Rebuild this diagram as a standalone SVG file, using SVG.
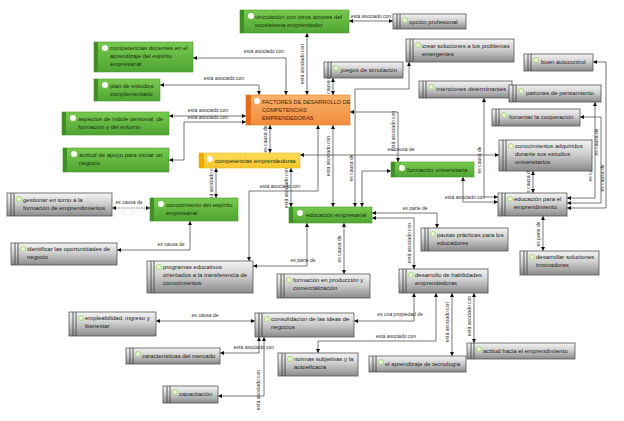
<svg xmlns="http://www.w3.org/2000/svg" width="624" height="421" viewBox="0 0 624 421">
<defs>
<linearGradient id="gGray" x1="0" y1="0" x2="0" y2="1">
<stop offset="0" stop-color="#f4f4f4"/><stop offset="0.45" stop-color="#cfcfcf"/><stop offset="1" stop-color="#8a8a8a"/>
</linearGradient>
<linearGradient id="gGreen" x1="0" y1="0" x2="0" y2="1">
<stop offset="0" stop-color="#78c94f"/><stop offset="1" stop-color="#4fa533"/>
</linearGradient>
<linearGradient id="gOrange" x1="0" y1="0" x2="0" y2="1">
<stop offset="0" stop-color="#f9b26b"/><stop offset="1" stop-color="#f28c3c"/>
</linearGradient>
<linearGradient id="gYellow" x1="0" y1="0" x2="0" y2="1">
<stop offset="0" stop-color="#fddc5a"/><stop offset="1" stop-color="#f6c52c"/>
</linearGradient>
<marker id="ar" viewBox="0 0 6 6" refX="6" refY="3" markerWidth="4" markerHeight="4" markerUnits="userSpaceOnUse" orient="auto-start-reverse">
<path d="M0,0 L6,3 L0,6 z" fill="#111"/>
</marker>
<style>
.gbox{fill:url(#gGray);stroke:#555;stroke-width:0.8}
.gs{stroke:#4a4a4a;stroke-width:0.9}
.gdot{fill:#e9f6d8;stroke:#a6d67a;stroke-width:1}
.grn{fill:url(#gGreen);stroke:#4c9a30;stroke-width:0.6}
.grs{fill:#3f8f25}
.wdot{fill:#fff}
.org{fill:url(#gOrange);stroke:#e07a2a;stroke-width:0.6}
.ors{fill:#e46d1c}
.yel{fill:url(#gYellow);stroke:#eab720;stroke-width:0.6}
.yes{fill:#f2a800}
text{font-family:"Liberation Sans",Arial,sans-serif}
.t{font-size:6px;fill:#1c1c1c}
.tg{font-size:6px;fill:#17300c}
.to{font-size:5.6px;fill:#4a2208}
.lbl{font-size:5px;fill:#333}
#connectors path{fill:none;stroke:#555;stroke-width:0.8;marker-start:url(#ar);marker-end:url(#ar)}
</style>
</defs>
<rect width="624" height="421" fill="#fff"/>

<g id="connectors">
<path d="M307,33 V95"/>
<path d="M349,21 H393"/>
<path d="M193,58 H286 V95"/>
<path d="M160,85 H259 V95"/>
<path d="M169,116 H246"/>
<path d="M169,160 H184 V122 H246"/>
<path d="M270,125 V153"/>
<path d="M333,78 V95"/>
<path d="M409,62 V89 H355 V207"/>
<path d="M350,112 H398 V162"/>
<path d="M318,125 V191 H249 V261"/>
<path d="M333,125 V207"/>
<path d="M300,155 H499"/>
<path d="M216,168 V198"/>
<path d="M291,168 V207"/>
<path d="M362,207 V171 H391"/>
<path d="M372,213 H437 V228"/>
<path d="M372,218 H414 V269"/>
<path d="M344,223 V274"/>
<path d="M307,223 V266 H253"/>
<path d="M150,208 H112" stroke-dasharray="1.5 1"/>
<path d="M190,221 V250 H117"/>
<path d="M484,98 V197 H498"/>
<path d="M463,177 V202 H498"/>
<path d="M533,171 V193"/>
<path d="M543,216 V251"/>
<path d="M595,102 V198 H567"/>
<path d="M580,117 H601 V203 H567"/>
<path d="M593,62 H606 V208 H567"/>
<path d="M414,293 V321 H354"/>
<path d="M436,293 V341 H318 V353"/>
<path d="M452,293 V356"/>
<path d="M474,293 V343"/>
<path d="M255,321 H156"/>
<path d="M259,337 V353 H220"/>
<path d="M264,337 V396 H218"/>
</g>

<g id="labels" class="lbl">
<text class="lbl" transform="translate(304,64) rotate(-90)" text-anchor="middle">está asociado con</text>
<text class="lbl" x="371" y="18" text-anchor="middle">está asociado con</text>
<text class="lbl" x="264" y="53" text-anchor="middle">está asociado con</text>
<text class="lbl" x="224" y="80" text-anchor="middle">está asociado con</text>
<text class="lbl" x="208" y="112" text-anchor="middle">está asociado con</text>
<text class="lbl" x="208" y="119" text-anchor="middle">está asociado con</text>
<text class="lbl" transform="translate(267,139) rotate(-90)" text-anchor="middle">es causa de</text>
<text class="lbl" transform="translate(330,87) rotate(-90)" text-anchor="middle">es causa de</text>
<text class="lbl" transform="translate(353,168) rotate(-90)" text-anchor="middle">es causa de</text>
<text class="lbl" transform="translate(395,131) rotate(-90)" text-anchor="middle">está asociado con</text>
<text class="lbl" x="280" y="188" text-anchor="middle">está asociado con</text>
<text class="lbl" transform="translate(330,156) rotate(-90)" text-anchor="middle">está asociado con</text>
<text class="lbl" x="401" y="151" text-anchor="middle">es causa de</text>
<text class="lbl" transform="translate(213,183) rotate(-90)" text-anchor="middle">está asociado con</text>
<text class="lbl" transform="translate(288,188) rotate(-90)" text-anchor="middle">está asociado con</text>
<text class="lbl" x="415" y="210" text-anchor="middle">es parte de</text>
<text class="lbl" transform="translate(411,243) rotate(-90)" text-anchor="middle">está asociado con</text>
<text class="lbl" transform="translate(341,249) rotate(-90)" text-anchor="middle">es causa de</text>
<text class="lbl" x="303" y="262" text-anchor="middle">es parte de</text>
<text class="lbl" x="129" y="204" text-anchor="middle">es causa de</text>
<text class="lbl" x="171" y="246" text-anchor="middle">es causa de</text>
<text class="lbl" transform="translate(481,160) rotate(-90)" text-anchor="middle">es causa de</text>
<text class="lbl" x="465" y="199" text-anchor="middle">está asociado con</text>
<text class="lbl" transform="translate(530,182) rotate(-90)" text-anchor="middle">es causa de</text>
<text class="lbl" transform="translate(540,234) rotate(-90)" text-anchor="middle">es parte de</text>
<text class="lbl" transform="translate(592,168) rotate(-90)" text-anchor="middle">es causa de</text>
<text class="lbl" transform="translate(598,142) rotate(-90)" text-anchor="middle">es causa de</text>
<text class="lbl" transform="translate(604,178) rotate(-90)" text-anchor="middle">es causa de</text>
<text class="lbl" x="400" y="316" text-anchor="middle">es una propiedad de</text>
<text class="lbl" x="396" y="338" text-anchor="middle">está asociado con</text>
<text class="lbl" transform="translate(449,322) rotate(-90)" text-anchor="middle">está asociado con</text>
<text class="lbl" transform="translate(471,316) rotate(-90)" text-anchor="middle">está asociado con</text>
<text class="lbl" x="205" y="317" text-anchor="middle">es causa de</text>
<text class="lbl" x="254" y="349" text-anchor="middle">está asociado con</text>
<text class="lbl" transform="translate(260,390) rotate(-90)" text-anchor="middle">está asociado con</text>
</g>

<!-- green nodes -->
<g id="n-vinculacion"><rect class="grn" x="240" y="10" width="109" height="23"/><rect class="grs" x="240" y="10" width="4" height="23"/><circle class="wdot" cx="251" cy="16" r="3"/><text class="tg" x="255" y="19">vinculación con otros actores del</text><text class="tg" x="255" y="27">ecosistema emprendedor</text></g>
<g id="n-docentes"><rect class="grn" x="94" y="42" width="99" height="30"/><rect class="grs" x="94" y="42" width="4" height="30"/><circle class="wdot" cx="105" cy="48" r="3"/><text class="tg" x="110" y="50">competencias docentes en el</text><text class="tg" x="110" y="58">aprendizaje del espíritu</text><text class="tg" x="110" y="66">empresarial</text></g>
<g id="n-plan"><rect class="grn" x="94" y="79" width="66" height="22"/><rect class="grs" x="94" y="79" width="4" height="22"/><circle class="wdot" cx="105" cy="85" r="3"/><text class="tg" x="110" y="88">plan de estudios</text><text class="tg" x="110" y="96">complementario</text></g>
<g id="n-aspectos"><rect class="grn" x="62" y="112" width="107" height="23"/><rect class="grs" x="62" y="112" width="4" height="23"/><circle class="wdot" cx="73" cy="118" r="3"/><text class="tg" x="78" y="121">aspectos de índole personal, de</text><text class="tg" x="78" y="129">formación y del entorno</text></g>
<g id="n-actitud-apoyo"><rect class="grn" x="63" y="148" width="106" height="24"/><rect class="grs" x="63" y="148" width="4" height="24"/><circle class="wdot" cx="74" cy="154" r="3"/><text class="tg" x="79" y="157">actitud de apoyo para iniciar un</text><text class="tg" x="79" y="165">negocio</text></g>
<g id="n-conocimiento-espiritu"><rect class="grn" x="150" y="198" width="88" height="23"/><rect class="grs" x="150" y="198" width="4" height="23"/><circle class="wdot" cx="161" cy="204" r="3"/><text class="tg" x="166" y="207">conocimiento del espíritu</text><text class="tg" x="166" y="215">empresarial</text></g>
<g id="n-educacion-empresarial"><rect class="grn" x="289" y="207" width="83" height="16"/><rect class="grs" x="289" y="207" width="4" height="16"/><circle class="wdot" cx="300" cy="213" r="3"/><text class="tg" x="306" y="217">educación empresarial</text></g>
<g id="n-formacion-universitaria"><rect class="grn" x="391" y="162" width="83" height="15"/><rect class="grs" x="391" y="162" width="4" height="15"/><circle class="wdot" cx="402" cy="168" r="3"/><text class="tg" x="407" y="172">formación universitaria</text></g>

<g id="n-factores"><rect class="org" x="246" y="95" width="104" height="30"/><rect class="ors" x="246" y="95" width="5" height="30"/><circle class="wdot" cx="257" cy="101" r="3"/><text class="to" x="262" y="104">FACTORES DE DESARROLLO DE</text><text class="to" x="262" y="112">COMPETENCIAS</text><text class="to" x="262" y="120">EMPRENDEDORAS</text></g>
<g id="n-competencias-emprendedoras"><rect class="yel" x="199" y="153" width="101" height="15"/><rect class="yes" x="199" y="153" width="5" height="15"/><circle class="wdot" cx="210" cy="159" r="3"/><text class="tg" x="215" y="163">competencias emprendedoras</text></g>

<!-- gray nodes -->
<g id="n-opcion"><rect class="gbox" x="393" y="14" width="73" height="15"/><line class="gs" x1="397" y1="14" x2="397" y2="29"/><line class="gs" x1="400" y1="14" x2="400" y2="29"/><circle class="gdot" cx="405" cy="20" r="2.5"/><text class="t" x="409" y="24">opción profesional</text></g>
<g id="n-crear"><rect class="gbox" x="406" y="39" width="108" height="23"/><line class="gs" x1="410" y1="39" x2="410" y2="62"/><line class="gs" x1="413" y1="39" x2="413" y2="62"/><circle class="gdot" cx="418" cy="45" r="2.5"/><text class="t" x="422" y="48">crear soluciones a los problemas</text><text class="t" x="422" y="56">emergentes</text></g>
<g id="n-juegos"><rect class="gbox" x="324" y="62" width="79" height="16"/><line class="gs" x1="328" y1="62" x2="328" y2="78"/><line class="gs" x1="331" y1="62" x2="331" y2="78"/><circle class="gdot" cx="336" cy="68" r="2.5"/><text class="t" x="341" y="72">juegos de simulación</text></g>
<g id="n-autocontrol"><rect class="gbox" x="524" y="54" width="69" height="17"/><line class="gs" x1="528" y1="54" x2="528" y2="71"/><line class="gs" x1="531" y1="54" x2="531" y2="71"/><circle class="gdot" cx="536" cy="60" r="2.5"/><text class="t" x="541" y="64">buen autocontrol</text></g>
<g id="n-intenciones"><rect class="gbox" x="419" y="81" width="93" height="17"/><line class="gs" x1="423" y1="81" x2="423" y2="98"/><line class="gs" x1="426" y1="81" x2="426" y2="98"/><circle class="gdot" cx="431" cy="87" r="2.5"/><text class="t" x="436" y="91">intenciones determinantes</text></g>
<g id="n-patrones"><rect class="gbox" x="509" y="85" width="92" height="17"/><line class="gs" x1="513" y1="85" x2="513" y2="102"/><line class="gs" x1="516" y1="85" x2="516" y2="102"/><circle class="gdot" cx="521" cy="91" r="2.5"/><text class="t" x="526" y="95">patrones de pensamiento</text></g>
<g id="n-fomentar"><rect class="gbox" x="492" y="109" width="88" height="17"/><line class="gs" x1="496" y1="109" x2="496" y2="126"/><line class="gs" x1="499" y1="109" x2="499" y2="126"/><circle class="gdot" cx="504" cy="115" r="2.5"/><text class="t" x="509" y="119">fomentar la cooperación</text></g>
<g id="n-conocimientos-adquiridos"><rect class="gbox" x="499" y="140" width="93" height="31"/><line class="gs" x1="503" y1="140" x2="503" y2="171"/><line class="gs" x1="506" y1="140" x2="506" y2="171"/><circle class="gdot" cx="511" cy="146" r="2.5"/><text class="t" x="515" y="148">conocimientos adquiridos</text><text class="t" x="515" y="156">durante sus estudios</text><text class="t" x="515" y="164">universitarios</text></g>
<g id="n-educacion-emprendimiento"><rect class="gbox" x="498" y="193" width="69" height="23"/><line class="gs" x1="502" y1="193" x2="502" y2="216"/><line class="gs" x1="505" y1="193" x2="505" y2="216"/><circle class="gdot" cx="510" cy="199" r="2.5"/><text class="t" x="514" y="201">educación para el</text><text class="t" x="514" y="209">emprendimiento</text></g>
<g id="n-desarrollar"><rect class="gbox" x="520" y="251" width="79" height="24"/><line class="gs" x1="524" y1="251" x2="524" y2="275"/><line class="gs" x1="527" y1="251" x2="527" y2="275"/><circle class="gdot" cx="532" cy="257" r="2.5"/><text class="t" x="536" y="259">desarrollar soluciones</text><text class="t" x="536" y="267">innovadoras</text></g>
<g id="n-pautas"><rect class="gbox" x="421" y="228" width="87" height="23"/><line class="gs" x1="425" y1="228" x2="425" y2="251"/><line class="gs" x1="428" y1="228" x2="428" y2="251"/><circle class="gdot" cx="433" cy="234" r="2.5"/><text class="t" x="437" y="237">pautas prácticas para los</text><text class="t" x="437" y="245">educadores</text></g>
<g id="n-gestionar"><rect class="gbox" x="7" y="193" width="105" height="23"/><line class="gs" x1="11" y1="193" x2="11" y2="216"/><line class="gs" x1="14" y1="193" x2="14" y2="216"/><circle class="gdot" cx="19" cy="199" r="2.5"/><text class="t" x="23" y="202">gestionar en torno a la</text><text class="t" x="23" y="210">formación de emprendimientos</text></g>
<g id="n-identificar"><rect class="gbox" x="11" y="243" width="106" height="22"/><line class="gs" x1="15" y1="243" x2="15" y2="265"/><line class="gs" x1="18" y1="243" x2="18" y2="265"/><circle class="gdot" cx="23" cy="249" r="2.5"/><text class="t" x="27" y="251">identificar las oportunidades de</text><text class="t" x="27" y="259">negocio</text></g>
<g id="n-programas"><rect class="gbox" x="147" y="261" width="106" height="32"/><line class="gs" x1="151" y1="261" x2="151" y2="293"/><line class="gs" x1="154" y1="261" x2="154" y2="293"/><circle class="gdot" cx="159" cy="267" r="2.5"/><text class="t" x="163" y="269">programas educativos</text><text class="t" x="163" y="277">orientados a la transferencia de</text><text class="t" x="163" y="285">conocimientos</text></g>
<g id="n-formacion-produccion"><rect class="gbox" x="277" y="274" width="93" height="24"/><line class="gs" x1="281" y1="274" x2="281" y2="298"/><line class="gs" x1="284" y1="274" x2="284" y2="298"/><circle class="gdot" cx="289" cy="280" r="2.5"/><text class="t" x="293" y="282">formación en producción y</text><text class="t" x="293" y="290">comercialización</text></g>
<g id="n-desarrollo"><rect class="gbox" x="399" y="269" width="89" height="24"/><line class="gs" x1="403" y1="269" x2="403" y2="293"/><line class="gs" x1="406" y1="269" x2="406" y2="293"/><circle class="gdot" cx="411" cy="275" r="2.5"/><text class="t" x="415" y="277">desarrollo de habilidades</text><text class="t" x="415" y="285">emprendedoras</text></g>
<g id="n-empleabilidad"><rect class="gbox" x="69" y="312" width="87" height="24"/><line class="gs" x1="73" y1="312" x2="73" y2="336"/><line class="gs" x1="76" y1="312" x2="76" y2="336"/><circle class="gdot" cx="81" cy="318" r="2.5"/><text class="t" x="85" y="320">empleabilidad, ingreso y</text><text class="t" x="85" y="328">bienestar</text></g>
<g id="n-consolidacion"><rect class="gbox" x="255" y="313" width="99" height="24"/><line class="gs" x1="259" y1="313" x2="259" y2="337"/><line class="gs" x1="262" y1="313" x2="262" y2="337"/><circle class="gdot" cx="267" cy="319" r="2.5"/><text class="t" x="271" y="321">consolidación de las ideas de</text><text class="t" x="271" y="329">negocios</text></g>
<g id="n-caracteristicas"><rect class="gbox" x="126" y="348" width="94" height="16"/><line class="gs" x1="130" y1="348" x2="130" y2="364"/><line class="gs" x1="133" y1="348" x2="133" y2="364"/><circle class="gdot" cx="138" cy="354" r="2.5"/><text class="t" x="142" y="358">características del mercado</text></g>
<g id="n-normas"><rect class="gbox" x="278" y="353" width="80" height="23"/><line class="gs" x1="282" y1="353" x2="282" y2="376"/><line class="gs" x1="285" y1="353" x2="285" y2="376"/><circle class="gdot" cx="290" cy="359" r="2.5"/><text class="t" x="294" y="361">normas subjetivas y la</text><text class="t" x="294" y="369">autoeficacia</text></g>
<g id="n-aprendizaje"><rect class="gbox" x="369" y="356" width="97" height="16"/><line class="gs" x1="373" y1="356" x2="373" y2="372"/><line class="gs" x1="376" y1="356" x2="376" y2="372"/><circle class="gdot" cx="381" cy="362" r="2.5"/><text class="t" x="385" y="366">el aprendizaje de tecnología</text></g>
<g id="n-actitud-hacia"><rect class="gbox" x="467" y="343" width="108" height="16"/><line class="gs" x1="471" y1="343" x2="471" y2="359"/><line class="gs" x1="474" y1="343" x2="474" y2="359"/><circle class="gdot" cx="479" cy="349" r="2.5"/><text class="t" x="483" y="353">actitud hacia el emprendimiento</text></g>
<g id="n-capacitacion"><rect class="gbox" x="163" y="386" width="55" height="17"/><line class="gs" x1="167" y1="386" x2="167" y2="403"/><line class="gs" x1="170" y1="386" x2="170" y2="403"/><circle class="gdot" cx="175" cy="392" r="2.5"/><text class="t" x="179" y="396">capacitación</text></g>
</svg>
